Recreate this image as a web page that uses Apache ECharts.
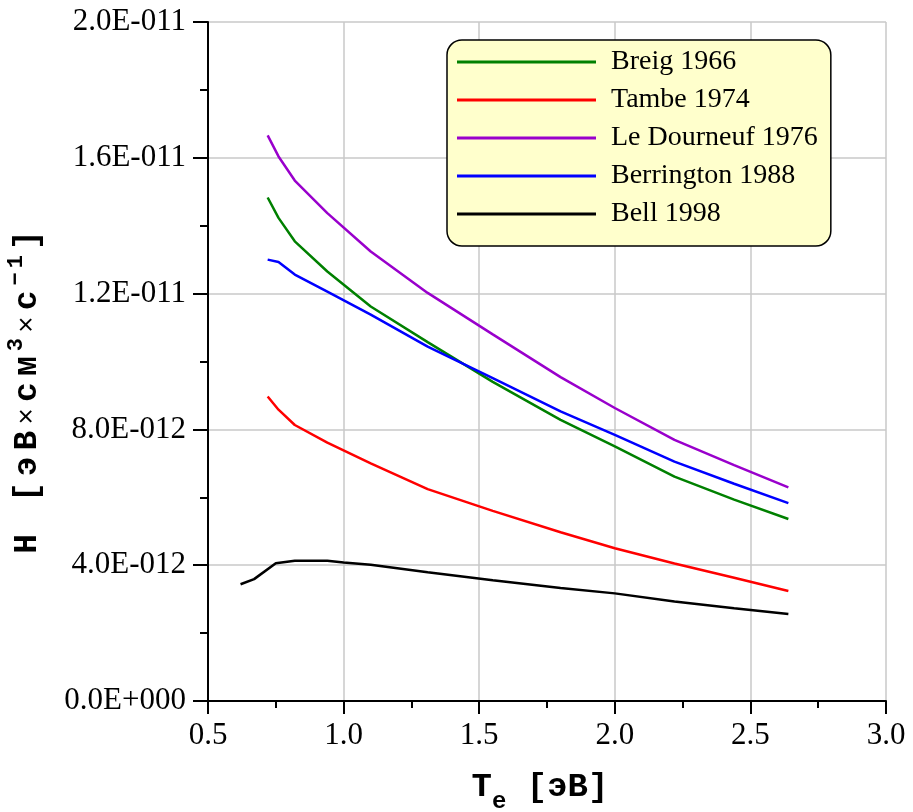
<!DOCTYPE html>
<html>
<head>
<meta charset="utf-8">
<script src="https://cdn.jsdelivr.net/npm/echarts@6/dist/echarts.min.js"></script>
<style>
html,body{margin:0;padding:0;background:#fff;}
#chart{width:913px;height:812px;}
</style>
</head>
<body>
<div id="chart"></div>
<script>
// Data (H in эВ·см³/с)
var seriesNames = ['Breig 1966', 'Tambe 1974', 'Le Dourneuf 1976', 'Berrington 1988', 'Bell 1998'];
var tempsMain = [0.72, 0.76, 0.82, 0.94, 1.10, 1.31, 1.55, 1.80, 2.00, 2.22, 2.44, 2.64];
var tempsBell = [0.62, 0.67, 0.75, 0.82, 0.94, 1.00, 1.10, 1.31, 1.55, 1.80, 2.00, 2.22, 2.44, 2.64];
var breig      = [14.83e-12, 14.23e-12, 13.54e-12, 12.65e-12, 11.62e-12, 10.57e-12, 9.40e-12, 8.28e-12, 7.50e-12, 6.61e-12, 5.93e-12, 5.36e-12];
var tambe      = [8.97e-12, 8.58e-12, 8.13e-12, 7.61e-12, 7.00e-12, 6.24e-12, 5.60e-12, 4.97e-12, 4.50e-12, 4.05e-12, 3.63e-12, 3.24e-12];
var leDourneuf = [16.66e-12, 16.04e-12, 15.33e-12, 14.37e-12, 13.24e-12, 12.02e-12, 10.80e-12, 9.54e-12, 8.63e-12, 7.69e-12, 6.95e-12, 6.29e-12];
var berrington = [13.00e-12, 12.93e-12, 12.56e-12, 12.06e-12, 11.38e-12, 10.44e-12, 9.51e-12, 8.53e-12, 7.84e-12, 7.05e-12, 6.40e-12, 5.83e-12];
var bell       = [3.44e-12, 3.59e-12, 4.06e-12, 4.13e-12, 4.13e-12, 4.08e-12, 4.01e-12, 3.79e-12, 3.56e-12, 3.33e-12, 3.17e-12, 2.93e-12, 2.73e-12, 2.56e-12];
var colors = ['#008000', '#ff0000', '#9900cc', '#0000ff', '#000000'];

function pairs(xs, ys) { return xs.map(function (x, i) { return [x, ys[i]]; }); }
function sci(v) {
  if (Math.abs(v) < 1e-30) return '0.0E+000';
  var e = Math.floor(Math.log10(Math.abs(v)) + 1e-9);
  var m = v / Math.pow(10, e);
  if (Math.abs(m) >= 9.95) { m /= 10; e++; }
  return m.toFixed(1) + 'E' + (e < 0 ? '-' : '+') + String(Math.abs(e)).padStart(3, '0');
}

var seriesData = [pairs(tempsMain, breig), pairs(tempsMain, tambe), pairs(tempsMain, leDourneuf), pairs(tempsMain, berrington), pairs(tempsBell, bell)];

var chart = echarts.init(document.getElementById('chart'), null, {renderer: 'canvas'});
var monoB = {fontFamily: 'Liberation Mono', fontWeight: 'bold', fontSize: 34, lineHeight: 34, fill: '#000', color: '#000'};
var option = {
  animation: false,
  backgroundColor: '#ffffff',
  grid: {left: 208, top: 22, width: 678, height: 679, containLabel: false},
  xAxis: {
    type: 'value', min: 0.5, max: 3.0, interval: 0.5,
    axisLine: {show: true, onZero: false, lineStyle: {color: '#000', width: 2}},
    axisTick: {show: true, inside: false, length: 13, lineStyle: {color: '#000', width: 2}},
    minorTick: {show: true, splitNumber: 2, length: 7, lineStyle: {color: '#000', width: 2}},
    splitLine: {show: true, lineStyle: {color: '#c8c8c8', width: 1.5}},
    axisLabel: {color: '#000', fontFamily: 'Liberation Serif', fontSize: 31, margin: 19,
      showMinLabel: true, showMaxLabel: true,
      formatter: function (v) { return v.toFixed(1); }}
  },
  yAxis: {
    type: 'value', min: 0, max: 2e-11, interval: 4e-12,
    axisLine: {show: true, onZero: false, lineStyle: {color: '#000', width: 2}},
    axisTick: {show: true, inside: false, length: 15, lineStyle: {color: '#000', width: 2}},
    minorTick: {show: true, splitNumber: 2, length: 8, lineStyle: {color: '#000', width: 2}},
    splitLine: {show: true, lineStyle: {color: '#c8c8c8', width: 1.5}},
    axisLabel: {color: '#000', fontFamily: 'Liberation Serif', fontSize: 31, margin: 22,
      showMinLabel: true, showMaxLabel: true, formatter: sci}
  },
  legend: {
    show: true, orient: 'vertical', left: 447, top: 40,
    padding: [7, 13, 17, 10],
    backgroundColor: '#ffffcc', borderColor: '#000', borderWidth: 1.5, borderRadius: 15,
    itemWidth: 139, itemHeight: 3, itemGap: 8, icon: 'rect',
    textStyle: {color: '#000', fontFamily: 'Liberation Serif', fontSize: 28, lineHeight: 30, padding: [0, 0, 0, 10]},
    data: seriesNames
  },
  series: seriesNames.map(function (n, i) {
    return {
      name: n, type: 'line', data: seriesData[i], symbol: 'none', smooth: false,
      color: colors[i],
      lineStyle: {color: colors[i], width: 2.5},
      itemStyle: {color: colors[i]},
      z: 3
    };
  }),
  graphic: [
    {
      type: 'text', x: 540, y: 787, silent: true,
      style: {
        text: '{b|T}{s|e}{b| [эВ]}',
        align: 'center', verticalAlign: 'middle',
        rich: {
          b: monoB,
          s: {fontFamily: 'Liberation Mono', fontWeight: 'bold', fontSize: 24, lineHeight: 24, padding: [30, 0, 0, 0], fill: '#000', color: '#000'}
        }
      }
    },
    {
      type: 'text', x: 28, y: 392, rotation: Math.PI / 2, silent: true,
      style: {
        text: '{b|H}{b| }{b|[}{b|э}{b|В}{x|×}{b|с}{b|м}{p|3}{x|×}{b|с}{p|−}{p|1}{b|]}',
        align: 'center', verticalAlign: 'middle',
        rich: {
          b: {fontFamily: 'Liberation Mono', fontWeight: 'bold', fontSize: 33, lineHeight: 34, padding: [0, 3, 0, 3], fill: '#000', color: '#000'},
          x: {fontFamily: 'Liberation Mono', fontSize: 28, lineHeight: 34, padding: [0, 3, 0, 3], fill: '#000', color: '#000'},
          p: {fontFamily: 'Liberation Mono', fontWeight: 'bold', fontSize: 22, lineHeight: 22, padding: [0, 2, 24, 2], fill: '#000', color: '#000'}
        }
      }
    }
  ]
};
chart.setOption(option);
</script>
</body>
</html>
